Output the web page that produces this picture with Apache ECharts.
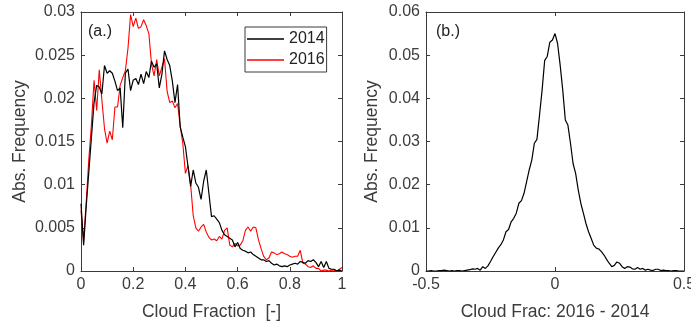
<!DOCTYPE html>
<html>
<head>
<meta charset="utf-8">
<script src="https://cdn.jsdelivr.net/npm/echarts@6/dist/echarts.min.js"></script>
<style>html,body{margin:0;padding:0;background:#fff}#c{width:691px;height:329px}</style>
</head>
<body>
<div id="c"></div>
<script>
// Panel (a): cloud fraction bins and absolute frequencies
const cloudFractionBins = [0,0.01,0.02,0.03,0.04,0.05,0.06,0.07,0.08,0.09,0.1,0.11,0.12,0.13,0.14,0.15,0.16,0.17,0.18,0.19,0.2,0.21,0.22,0.23,0.24,0.25,0.26,0.27,0.28,0.29,0.3,0.31,0.32,0.33,0.34,0.35,0.36,0.37,0.38,0.39,0.4,0.41,0.42,0.43,0.44,0.45,0.46,0.47,0.48,0.49,0.5,0.51,0.52,0.53,0.54,0.55,0.56,0.57,0.58,0.59,0.6,0.61,0.62,0.63,0.64,0.65,0.66,0.67,0.68,0.69,0.7,0.71,0.72,0.73,0.74,0.75,0.76,0.77,0.78,0.79,0.8,0.81,0.82,0.83,0.84,0.85,0.86,0.87,0.88,0.89,0.9,0.91,0.92,0.93,0.94,0.95,0.96,0.97,0.98,0.99,1];
const freq2014 = [0.0078,0.0030,0.0075,0.0115,0.0155,0.0195,0.0215,0.0213,0.0205,0.0238,0.0229,0.0232,0.0229,0.0220,0.0209,0.0212,0.0166,0.0229,0.0234,0.0209,0.0221,0.0223,0.0216,0.0228,0.0217,0.0231,0.0224,0.0243,0.0236,0.0240,0.0212,0.0228,0.0255,0.0245,0.0238,0.0220,0.0195,0.0216,0.0167,0.0155,0.0144,0.0121,0.0098,0.0117,0.0102,0.0097,0.0083,0.0104,0.0117,0.0090,0.0063,0.0064,0.0060,0.0056,0.0047,0.0042,0.0040,0.0038,0.0036,0.0028,0.0033,0.0026,0.0024,0.0023,0.0021,0.0022,0.0019,0.0017,0.0015,0.0013,0.0013,0.0011,0.0012,0.0009,0.0007,0.0008,0.0006,0.0005,0.0006,0.0005,0.0007,0.0008,0.0009,0.0008,0.0011,0.0010,0.0009,0.0012,0.0011,0.0013,0.0010,0.0005,0.0011,0.0004,0.0011,0.0003,0.0002,0.0002,0.0000,0.0001,0.0000];
const freq2016 = [0.0070,0.0035,0.0080,0.0130,0.0170,0.0221,0.0186,0.0233,0.0198,0.0165,0.0148,0.0162,0.0152,0.0190,0.0190,0.0215,0.0224,0.0232,0.0258,0.0297,0.0283,0.0293,0.0281,0.0283,0.0291,0.0284,0.0275,0.0240,0.0226,0.0245,0.0226,0.0236,0.0246,0.0208,0.0195,0.0197,0.0189,0.0194,0.0168,0.0148,0.0113,0.0122,0.0100,0.0064,0.0050,0.0046,0.0051,0.0054,0.0045,0.0039,0.0036,0.0037,0.0035,0.0040,0.0037,0.0047,0.0050,0.0030,0.0028,0.0032,0.0029,0.0030,0.0035,0.0047,0.0051,0.0046,0.0051,0.0050,0.0036,0.0026,0.0017,0.0013,0.0015,0.0022,0.0021,0.0019,0.0020,0.0022,0.0020,0.0019,0.0017,0.0016,0.0017,0.0017,0.0024,0.0009,0.0008,0.0005,0.0004,0.0006,0.0003,0.0003,0.0000,0.0001,0.0001,0.0000,0.0001,0.0001,0.0000,0.0002,0.0004];

// Panel (b): difference bins (2016 - 2014) and absolute frequency
const diffBins = [-0.5,-0.49,-0.48,-0.47,-0.46,-0.45,-0.44,-0.43,-0.42,-0.41,-0.4,-0.39,-0.38,-0.37,-0.36,-0.35,-0.34,-0.33,-0.32,-0.31,-0.3,-0.29,-0.28,-0.27,-0.26,-0.25,-0.24,-0.23,-0.22,-0.21,-0.2,-0.19,-0.18,-0.17,-0.16,-0.15,-0.14,-0.13,-0.12,-0.11,-0.1,-0.09,-0.08,-0.07,-0.06,-0.05,-0.04,-0.03,-0.02,-0.01,0,0.01,0.02,0.03,0.04,0.05,0.06,0.07,0.08,0.09,0.1,0.11,0.12,0.13,0.14,0.15,0.16,0.17,0.18,0.19,0.2,0.21,0.22,0.23,0.24,0.25,0.26,0.27,0.28,0.29,0.3,0.31,0.32,0.33,0.34,0.35,0.36,0.37,0.38,0.39,0.4,0.41,0.42,0.43,0.44,0.45,0.46,0.47,0.48,0.49,0.5];
const diffFreq = [0,0,0.0001,0,0,0.0001,0.0001,0.0002,0.0001,0,0.0001,0,0.0001,0.0001,0,0.0001,0.0002,0.0003,0.0005,0.0004,0.0006,0.0002,0.0010,0.0006,0.0012,0.0022,0.0033,0.0043,0.0053,0.0061,0.0072,0.0091,0.0096,0.0114,0.0122,0.0134,0.0157,0.0163,0.0180,0.0207,0.0234,0.0257,0.0296,0.0305,0.0361,0.0419,0.0488,0.0497,0.0530,0.0535,0.0550,0.0527,0.0477,0.0419,0.0350,0.0338,0.0296,0.0249,0.0226,0.0188,0.0157,0.0134,0.0110,0.0091,0.0076,0.0060,0.0053,0.0051,0.0045,0.0037,0.0027,0.0018,0.0010,0.0013,0.0021,0.0018,0.0010,0.0006,0.0010,0.0009,0.0005,0.0004,0.0008,0.0004,0.0006,0.0002,0.0004,0.0002,0.0001,0.0004,0.0004,0.0001,0.0002,0.0001,0.0001,0,0.0001,0.0001,0,0,0];

const seriesNames = ['2014','2016'];
const panelLabels = ['(a.)','(b.)'];
const xNames = ['Cloud Fraction  [-]','Cloud Frac: 2016 - 2014'];
const yName = 'Abs. Frequency';

const FONT = "'Liberation Sans', Arial, Helvetica, sans-serif";
const AX = '#3a3a3a';
const TXT = '#3c3c3c';
const pair = (xs, ys) => xs.map((x, i) => [x, ys[i]]);

function baseAxisLine() { return { show: true, onZero: false, lineStyle: { color: AX, width: 1 } }; }
function tick() { return { show: true, inside: true, length: 4, lineStyle: { color: AX } }; }

function mainX(gi, min, max, interval, name) {
  return {
    type: 'value', gridIndex: gi, min, max, interval, position: 'bottom',
    name, nameLocation: 'middle', nameGap: 32,
    nameTextStyle: { fontFamily: FONT, fontSize: 17.5, color: TXT },
    axisLine: baseAxisLine(), axisTick: tick(),
    axisLabel: { fontFamily: FONT, fontSize: 16, color: TXT, margin: 6,
                 alignMinLabel: 'center', alignMaxLabel: 'center', hideOverlap: false },
    splitLine: { show: false }
  };
}
function topX(gi, min, max, interval) {
  return {
    type: 'value', gridIndex: gi, min, max, interval, position: 'top',
    axisLine: baseAxisLine(), axisTick: tick(),
    axisLabel: { show: false }, splitLine: { show: false }
  };
}
function mainY(gi, max, interval, gap) {
  return {
    type: 'value', gridIndex: gi, min: 0, max, interval, position: 'left',
    name: yName, nameLocation: 'middle', nameGap: gap,
    nameTextStyle: { fontFamily: FONT, fontSize: 17.5, color: TXT },
    axisLine: baseAxisLine(), axisTick: tick(),
    axisLabel: { fontFamily: FONT, fontSize: 16, color: TXT, margin: 6 },
    splitLine: { show: false }
  };
}
function rightY(gi, max, interval) {
  return {
    type: 'value', gridIndex: gi, min: 0, max, interval, position: 'right',
    axisLine: baseAxisLine(), axisTick: tick(),
    axisLabel: { show: false }, splitLine: { show: false }
  };
}

const chart = echarts.init(document.getElementById('c'), null, { renderer: 'canvas' });
chart.setOption({
  animation: false,
  backgroundColor: '#fff',
  grid: [
    { left: 81, top: 12, width: 261, height: 259, outerBoundsMode: 'none', containLabel: false },
    { left: 426, top: 12, width: 258, height: 259, outerBoundsMode: 'none', containLabel: false }
  ],
  xAxis: [
    mainX(0, 0, 1, 0.2, xNames[0]), topX(0, 0, 1, 0.2),
    mainX(1, -0.5, 0.5, 0.5, xNames[1]), topX(1, -0.5, 0.5, 0.5)
  ],
  yAxis: [
    mainY(0, 0.03, 0.005, 52), rightY(0, 0.03, 0.005),
    mainY(1, 0.06, 0.01, 45), rightY(1, 0.06, 0.01)
  ],
  legend: {
    data: seriesNames, orient: 'vertical', left: 245, top: 27,
    icon: 'rect', itemWidth: 37, itemHeight: 1.5, itemGap: 5,
    padding: [4, 2, 4, 2],
    borderColor: AX, borderWidth: 1, backgroundColor: '#fff',
    textStyle: { fontFamily: FONT, fontSize: 16, color: '#222' }
  },
  graphic: [
    { type: 'text', left: 88, top: 24, style: { text: panelLabels[0], font: "16px " + FONT, fill: '#222' } },
    { type: 'text', left: 436, top: 24, style: { text: panelLabels[1], font: "16px " + FONT, fill: '#222' } }
  ],
  series: [
    { name: seriesNames[0], type: 'line', xAxisIndex: 0, yAxisIndex: 0, data: pair(cloudFractionBins, freq2014),
      symbol: 'none', lineStyle: { color: '#000', width: 1.2 }, itemStyle: { color: '#000' }, z: 3 },
    { name: seriesNames[1], type: 'line', xAxisIndex: 0, yAxisIndex: 0, data: pair(cloudFractionBins, freq2016),
      symbol: 'none', lineStyle: { color: '#ff0000', width: 1.1 }, itemStyle: { color: '#ff0000' }, z: 2 },
    { name: 'diff', type: 'line', xAxisIndex: 2, yAxisIndex: 2, data: pair(diffBins, diffFreq),
      symbol: 'none', lineStyle: { color: '#000', width: 1.2 }, itemStyle: { color: '#000' } }
  ]
});
</script>
</body>
</html>
